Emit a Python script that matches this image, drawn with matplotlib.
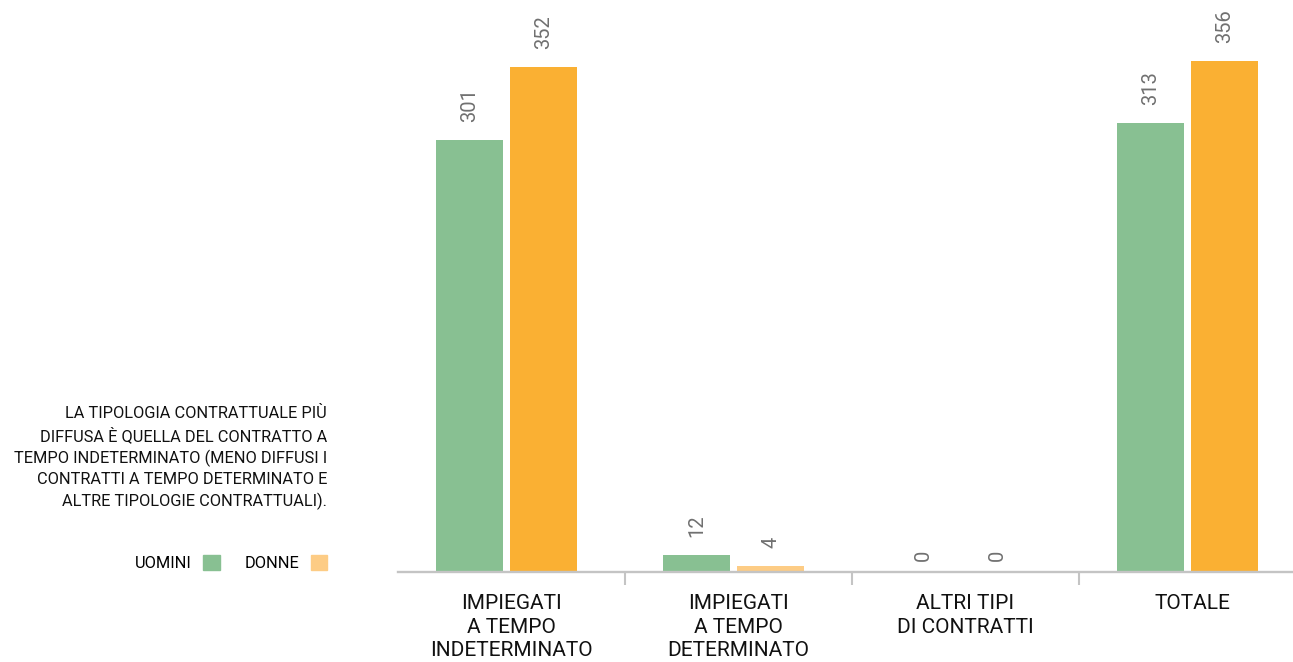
import numpy as np
import matplotlib
matplotlib.use("Agg")
import matplotlib.pyplot as plt
from matplotlib.patches import Patch

plt.rcParams['font.family'] = ['Roboto', 'DejaVu Sans']

# data
categorie = ["IMPIEGATI\nA TEMPO\nINDETERMINATO",
             "IMPIEGATI\nA TEMPO\nDETERMINATO",
             "ALTRI TIPI\nDI CONTRATTI",
             "TOTALE"]
uomini = [301, 12, 0, 313]
donne = [352, 4, 0, 356]

nota = ("LA TIPOLOGIA CONTRATTUALE PIÙ\n"
        "DIFFUSA È QUELLA DEL CONTRATTO A\n"
        "TEMPO INDETERMINATO (MENO DIFFUSI I\n"
        "CONTRATTI A TEMPO DETERMINATO E\n"
        "ALTRE TIPOLOGIE CONTRATTUALI).")

verde = "#88c092"
arancio = "#fab033"
arancio_chiaro = "#fdcc85"
grigio = "#c4c4c4"

fig = plt.figure(figsize=(12.93, 6.62), dpi=100)
ax = fig.add_axes([398 / 1293, 90 / 662, 908 / 1293, 572 / 662])

x = np.arange(len(categorie))
w = 0.295
shift = -0.022
off = 0.163

# the small "donne" bar is drawn in the lighter orange in the original
col_donne = [arancio_chiaro if v < 10 else arancio for v in donne]

b1 = ax.bar(x + shift - off, uomini, width=w, color=verde)
b2 = ax.bar(x + shift + off, donne, width=w, color=col_donne)

for bars, vals in ((b1, uomini), (b2, donne)):
    for r, v in zip(bars, vals):
        ax.annotate(str(v), (r.get_x() + r.get_width() / 2, v),
                    xytext=(0, 8 if v == 0 else 13), textcoords="offset points",
                    rotation=90, ha="center", va="bottom",
                    fontsize=14.5, color="#707070")

ax.set_xlim(-0.5, 3.5)
ax.set_ylim(0, 398.6)

for s in ["top", "right", "left"]:
    ax.spines[s].set_visible(False)
ax.spines["bottom"].set_color(grigio)
ax.spines["bottom"].set_linewidth(1.7)
ax.set_yticks([])

ax.set_xticks(x)
ax.set_xticklabels(categorie, fontsize=15, color="#111111", linespacing=1.3)
ax.tick_params(axis="x", which="major", length=0, pad=16)
ax.set_xticks([0.5, 1.5, 2.5], minor=True)
ax.tick_params(axis="x", which="minor", length=9.5, width=1.5, color=grigio)

fig.text(327 / 1293, 1 - 458 / 662, nota, ha="right", va="center",
         fontsize=11.8, linespacing=1.42, color="#111111")

handles = [Patch(color=verde, label="UOMINI"),
           Patch(color=arancio_chiaro, label="DONNE")]
fig.legend(handles=handles, loc="center right", ncol=2, markerfirst=False,
           bbox_to_anchor=(327 / 1293, 1 - 563 / 662), frameon=False,
           fontsize=11.8, handlelength=1.0, handleheight=1.0,
           handletextpad=0.7, columnspacing=1.5, borderpad=0, borderaxespad=0)

plt.savefig("out.png", dpi=100)
